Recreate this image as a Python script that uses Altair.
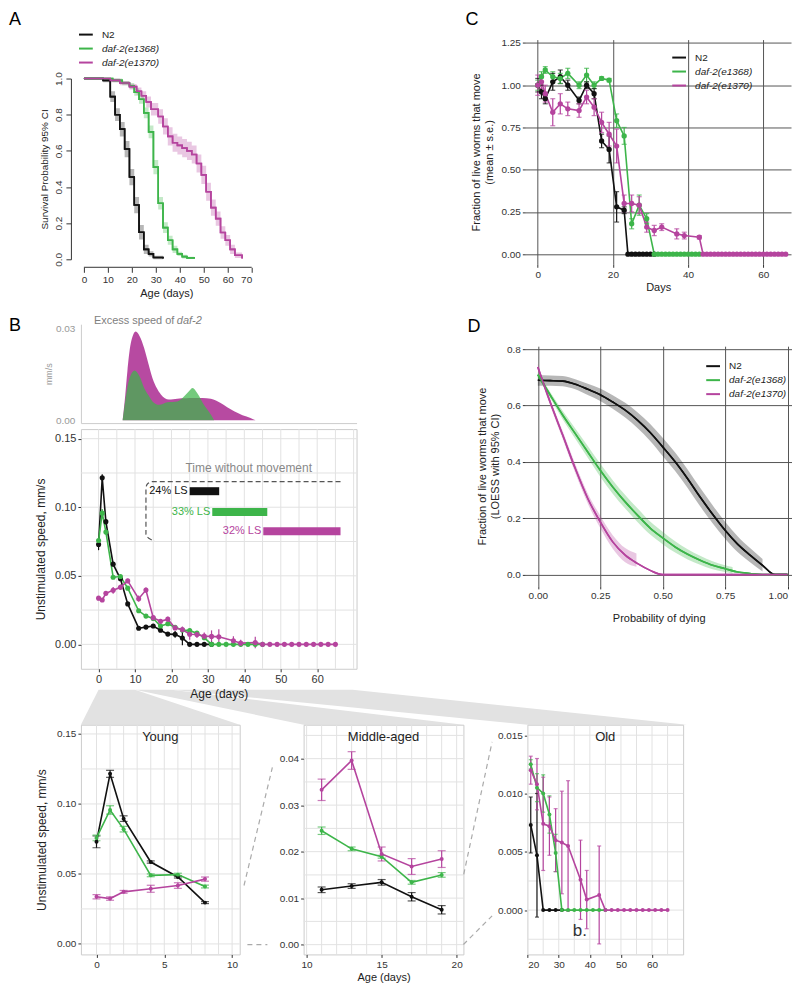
import altair as alt
import pandas as pd

FONT = "Liberation Sans"
STRAINS = ["N2", "daf-2(e1368)", "daf-2(e1370)"]
COLORS = ["#111111", "#3db54a", "#b5449e"]

# ---------------- Panel A: survival (Kaplan-Meier steps, 95% CI half widths)
km_n2_t = [0, 8, 11, 13, 15, 17, 19, 21, 23, 25, 27, 29, 33]
km_n2_s = [1.0, 0.99, 0.90, 0.80, 0.72, 0.61, 0.455, 0.30, 0.15, 0.055, 0.03, 0.01, 0.005]
km_n2_ci = [0.0, 0.01, 0.03, 0.035, 0.04, 0.045, 0.045, 0.045, 0.04, 0.025, 0.015, 0.01, 0.005]
km_e1368_t = [0, 12, 16, 19, 21, 23, 25, 27, 29, 31, 33, 35, 37, 39, 41, 43, 46]
km_e1368_s = [1.0, 0.99, 0.975, 0.96, 0.925, 0.885, 0.81, 0.705, 0.51, 0.31, 0.175, 0.105, 0.055, 0.03, 0.015, 0.008, 0.003]
km_e1368_ci = [0.0, 0.01, 0.012, 0.015, 0.02, 0.025, 0.03, 0.035, 0.04, 0.035, 0.03, 0.025, 0.02, 0.012, 0.01, 0.006, 0.003]
km_e1370_t = [0, 11, 15, 19, 22, 24, 26, 28, 31, 33, 35, 37, 39, 41, 43, 45, 47, 49, 51, 53, 55, 57, 59, 61, 63, 66]
km_e1370_s = [1.0, 0.99, 0.975, 0.955, 0.93, 0.905, 0.87, 0.83, 0.79, 0.735, 0.68, 0.645, 0.63, 0.615, 0.60, 0.58, 0.53, 0.467, 0.374, 0.286, 0.225, 0.148, 0.105, 0.055, 0.022, 0.005]
km_e1370_ci = [0.0, 0.01, 0.012, 0.015, 0.02, 0.025, 0.03, 0.035, 0.04, 0.045, 0.05, 0.05, 0.05, 0.05, 0.05, 0.05, 0.05, 0.05, 0.05, 0.045, 0.04, 0.035, 0.03, 0.025, 0.015, 0.005]

# ---------------- Panel C: fraction of live worms that move (mean, s.e.)
c_n2_day = [0, 1, 2, 4, 6, 8, 11, 13, 15, 17, 19, 21, 23, 24, 25, 26, 27, 28, 29, 30, 31]
c_n2 = [1.00, 0.96, 0.92, 1.02, 1.05, 1.00, 0.91, 1.00, 0.95, 0.67, 0.62, 0.28, 0.26,
        0, 0, 0, 0, 0, 0, 0, 0]
c_n2_se = [0.04, 0.04, 0.03, 0.05, 0.04, 0.03, 0.02, 0.02, 0.03, 0.04, 0.08, 0.09, 0.02,
           0, 0, 0, 0, 0, 0, 0, 0]
c_e1368_day = [0, 1, 2, 4, 6, 8, 11, 13, 15, 17, 19, 21, 23, 25, 27, 29,
               31, 32, 33, 34, 35, 36, 37, 38, 39, 40, 41, 42, 43]
c_e1368 = [1.00, 1.05, 1.09, 1.05, 1.04, 1.07, 1.00, 1.06, 1.00, 1.04, 1.03, 0.79, 0.70, 0.18, 0.29, 0.21,
           0, 0, 0, 0, 0, 0, 0, 0, 0, 0, 0, 0, 0]
c_e1368_se = [0.03, 0.03, 0.02, 0.03, 0.03, 0.03, 0.02, 0.04, 0.02, 0.01, 0.01, 0.04, 0.05, 0.03, 0.06, 0.03,
              0, 0, 0, 0, 0, 0, 0, 0, 0, 0, 0, 0, 0]
c_e1370_day = [0, 1, 2, 4, 6, 8, 11, 13, 15, 17, 19, 21, 23, 25, 27, 29, 31, 33, 37, 39, 43,
               44, 45, 46, 47, 48, 49, 50, 51, 52, 53, 54, 55, 56, 57, 58, 59, 60, 61, 62, 63, 64, 65, 66]
c_e1370 = [1.00, 1.02, 0.95, 0.84, 0.89, 0.86, 0.85, 0.93, 0.87, 0.78, 0.71, 0.64, 0.30, 0.30, 0.29, 0.16,
           0.14, 0.16, 0.12, 0.11, 0.10,
           0, 0, 0, 0, 0, 0, 0, 0, 0, 0, 0, 0, 0, 0, 0, 0, 0, 0, 0, 0, 0, 0, 0]
c_e1370_se = [0.06, 0.04, 0.05, 0.08, 0.06, 0.04, 0.04, 0.04, 0.05, 0.06, 0.07, 0.10, 0.05, 0.05, 0.05, 0.03,
              0.03, 0.02, 0.03, 0.02, 0.01,
              0, 0, 0, 0, 0, 0, 0, 0, 0, 0, 0, 0, 0, 0, 0, 0, 0, 0, 0, 0, 0, 0, 0]

# ---------------- Panel B: unstimulated speed (mean, s.e.)
sp_n2_day = [0, 1, 2, 4, 6, 8, 11, 13, 15, 17, 19, 21, 23, 25, 27, 29, 31]
sp_n2 = [0.0729, 0.1215, 0.0895, 0.0585, 0.0478, 0.0295, 0.0118, 0.0126, 0.0134, 0.0103, 0.0075,
         0.0073, 0.0047, 0.0, 0.0, 0.0, 0.0]
sp_n2_se = [0.0042, 0.0025, 0.0020, 0.0008, 0.0007, 0.0007, 0.0006, 0.0005, 0.0006, 0.0009, 0.0009,
            0.0024, 0.0053, 0.0, 0.0, 0.0, 0.0]
sp_e1368_day = [0, 1, 2, 4, 6, 8, 11, 13, 15, 17, 19, 21, 23, 25, 27, 29, 31, 33, 35, 37, 39, 41, 43, 45]
sp_e1368 = [0.0757, 0.0957, 0.0820, 0.0490, 0.0495, 0.0410, 0.0245, 0.0206, 0.0189, 0.0134, 0.0150,
            0.0125, 0.0105, 0.0100, 0.0082, 0.0049, 0.0, 0.0, 0.0, 0.0, 0.0, 0.0, 0.0, 0.0]
sp_e1368_se = [0.0020, 0.0030, 0.0020, 0.0010, 0.0010, 0.0010, 0.0008, 0.0004, 0.0003, 0.0004, 0.0005,
               0.0004, 0.0012, 0.0016, 0.0016, 0.0016, 0.0, 0.0, 0.0, 0.0, 0.0, 0.0, 0.0, 0.0]
sp_e1370_day = [0, 1, 2, 4, 6, 8, 11, 13, 15, 17, 19, 21, 23, 25, 27, 29, 31, 33, 37, 39, 43,
                45, 47, 49, 51, 53, 55, 57, 59, 61, 63, 65]
sp_e1370 = [0.0337, 0.0324, 0.0372, 0.0394, 0.0417, 0.0463, 0.0333, 0.0396, 0.0195, 0.0168, 0.0184,
            0.0120, 0.0108, 0.0074, 0.0072, 0.0060, 0.0058, 0.0055, 0.0026, 0.0009, 0.0013,
            0.0, 0.0, 0.0, 0.0, 0.0, 0.0, 0.0, 0.0, 0.0, 0.0, 0.0]
sp_e1370_se = [0.0015, 0.0012, 0.0010, 0.0025, 0.0020, 0.0015, 0.0023, 0.0019, 0.0015, 0.0017, 0.0018,
               0.0012, 0.0022, 0.0040, 0.0025, 0.0027, 0.0044, 0.0056, 0.0034, 0.0025, 0.0042,
               0.0, 0.0, 0.0, 0.0, 0.0, 0.0, 0.0, 0.0, 0.0, 0.0, 0.0]

# excess speed of daf-2 (density-like curves)
dens_e1370_day = [6.6, 7.3, 7.9, 8.8, 10.2, 11.3, 12.5, 13.7, 14.8, 16.0, 17.1, 19.3, 21.6, 24.0, 26.0,
                  28.5, 30.8, 32.2, 33.5, 35.3, 37.2, 39.5, 41.7, 43.1]
dens_e1370 = [0.0, 0.008, 0.016, 0.025, 0.0291, 0.0275, 0.0237, 0.0185, 0.0138, 0.0105, 0.0085, 0.0068,
              0.0071, 0.0072, 0.0073, 0.0073, 0.0071, 0.0065, 0.0057, 0.0043, 0.0030, 0.0017, 0.0008, 0.0]
dens_e1368_day = [6.6, 7.4, 8.3, 9.9, 11.2, 12.5, 13.7, 14.8, 16.6, 18.9, 21.6, 23.5, 24.8, 25.8, 27.1,
                  28.9, 30.8, 31.7]
dens_e1368 = [0.0, 0.007, 0.013, 0.0163, 0.0145, 0.0106, 0.0082, 0.0062, 0.0051, 0.0059, 0.0062, 0.0079,
              0.0095, 0.0106, 0.0089, 0.0051, 0.0019, 0.0]

# time without movement (days) and share of lifespan
still_start = [25.0, 31.2, 45.2]
still_end = [33.1, 46.3, 66.4]
still_level = [0.1117, 0.0966, 0.0825]
still_label = ["24% LS", "33% LS", "32% LS"]
bracket_day = [66.4, 14.8, 13.4, 13.0, 13.0, 13.9, 15.4]
bracket_val = [0.1187, 0.1187, 0.117, 0.1141, 0.0801, 0.0772, 0.0757]

# ---------------- Panel D: LOESS fits with 95% CI
d_x = [0.0, 0.05, 0.10, 0.15, 0.20, 0.25, 0.30, 0.35, 0.40, 0.45, 0.50, 0.55, 0.60, 0.65, 0.70,
       0.75, 0.80, 0.85, 0.90, 0.95, 1.0]
d_n2 = [0.689, 0.688, 0.686, 0.675, 0.657, 0.638, 0.612, 0.583, 0.547, 0.504, 0.453, 0.400, 0.340,
        0.275, 0.214, 0.157, 0.108, 0.069, 0.033, 0.0, 0.0]
d_e1368 = [0.709, 0.636, 0.565, 0.500, 0.435, 0.370, 0.311, 0.258, 0.210, 0.165, 0.130, 0.098, 0.072,
           0.051, 0.033, 0.021, 0.009, 0.004, 0.0, 0.0, 0.0]
d_e1370 = [0.736, 0.610, 0.494, 0.376, 0.270, 0.187, 0.116, 0.069, 0.039, 0.015, 0.0, 0.0, 0.0,
           0.0, 0.0, 0.0, 0.0, 0.0, 0.0, 0.0, 0.0]
d_n2_bx = [0.0, 0.05, 0.10, 0.15, 0.20, 0.25, 0.30, 0.35, 0.40, 0.45, 0.50, 0.55, 0.60, 0.65, 0.70,
           0.75, 0.80, 0.85, 0.90]
d_n2_lo = [0.670, 0.670, 0.668, 0.657, 0.637, 0.616, 0.588, 0.557, 0.519, 0.474, 0.421, 0.367, 0.307,
           0.242, 0.182, 0.127, 0.080, 0.044, 0.011]
d_n2_hi = [0.707, 0.706, 0.704, 0.693, 0.677, 0.660, 0.636, 0.609, 0.575, 0.534, 0.485, 0.433, 0.373,
           0.308, 0.246, 0.187, 0.136, 0.094, 0.055]
d_e1368_bx = [0.0, 0.05, 0.10, 0.15, 0.20, 0.25, 0.30, 0.35, 0.40, 0.45, 0.50, 0.55, 0.60, 0.65, 0.70,
              0.75, 0.78]
d_e1368_lo = [0.700, 0.625, 0.550, 0.482, 0.414, 0.347, 0.287, 0.234, 0.186, 0.142, 0.108, 0.078, 0.054,
              0.035, 0.019, 0.009, 0.003]
d_e1368_hi = [0.718, 0.647, 0.580, 0.518, 0.456, 0.393, 0.335, 0.282, 0.234, 0.188, 0.152, 0.118, 0.090,
              0.067, 0.047, 0.033, 0.027]
d_e1370_bx = [0.0, 0.05, 0.10, 0.15, 0.20, 0.25, 0.30, 0.35, 0.395]
d_e1370_lo = [0.725, 0.598, 0.480, 0.360, 0.252, 0.165, 0.092, 0.044, 0.028]
d_e1370_hi = [0.747, 0.622, 0.508, 0.392, 0.288, 0.209, 0.140, 0.094, 0.075]


# ================= helpers =================
def long(series, cols):
    rows = []
    for name, arrays in zip(STRAINS, series):
        for vals in zip(*arrays):
            r = {"strain": name}
            r.update(dict(zip(cols, vals)))
            rows.append(r)
    return pd.DataFrame(rows)


def color(legend=None):
    return alt.Color("strain:N", scale=alt.Scale(domain=STRAINS, range=COLORS), legend=legend)


def legend(x, y, size=10):
    return alt.Legend(title=None, orient="none", legendX=x, legendY=y, symbolType="stroke",
                      symbolStrokeWidth=2, symbolSize=190, symbolOpacity=1, labelFontSize=size,
                      labelColor="#222222",
                      labelFontStyle=alt.ExprRef("datum.label == 'N2' ? 'normal' : 'italic'"),
                      rowPadding=1, labelOffset=8, padding=0)


ONE = pd.DataFrame({"z": [0]})


def txt(text, x, y, size=12, align="left", baseline="top", col="#000000", style="normal"):
    return alt.Chart(pd.DataFrame({"t": [text]})).mark_text(
        align=align, baseline=baseline, fontSize=size, color=col, fontStyle=style, font=FONT
    ).encode(text="t:N", x=alt.value(x), y=alt.value(y))


def spacer(w, h):
    return alt.Chart(ONE).mark_point(opacity=0, size=1).encode(
        x=alt.value(0), y=alt.value(0)).properties(width=w, height=h)


# ================= Panel A =================
km = long([(km_n2_t, km_n2_s, km_n2_ci), (km_e1368_t, km_e1368_s, km_e1368_ci),
           (km_e1370_t, km_e1370_s, km_e1370_ci)], ["t", "s", "ci"])
km["lo"] = (km["s"] - km["ci"]).clip(lower=0)
km["hi"] = (km["s"] + km["ci"]).clip(upper=1)
A_W, A_H = 171, 181
a_x = alt.X("t:Q", scale=alt.Scale(domain=[-1.25, 70], nice=False, zero=False),
            axis=alt.Axis(values=list(range(0, 71, 10)), domain=False, grid=False, offset=8, tickSize=5,
                          labelFontSize=10, titleFontSize=11, title="Age (days)", labelPadding=2, titlePadding=3))


def a_y(f):
    return alt.Y(f, scale=alt.Scale(domain=[0, 1], nice=False),
                 axis=alt.Axis(values=[0, 0.2, 0.4, 0.6, 0.8, 1.0], format=".1f", labelAngle=270, offset=10,
                               tickSize=5, grid=False, title="Survival Probability 95% CI", titleFontSize=10,
                               labelFontSize=10, labelPadding=2, titlePadding=4))


a_line_leg = alt.Chart(km).mark_line(interpolate="step-after", strokeWidth=1.6).encode(
    x=a_x, y=a_y("s:Q"), color=color(legend(-3, -52)))
a_band = alt.Chart(km).mark_area(interpolate="step-after", opacity=0.3).encode(
    x=a_x, y=a_y("lo:Q"), y2="hi:Q", color=color())
a_line = alt.Chart(km).mark_line(interpolate="step-after", strokeWidth=1.6).encode(
    x=a_x, y=a_y("s:Q"), color=color())
a_axisline = alt.Chart(ONE).mark_rule(color="#333333").encode(
    x=alt.value(3), x2=alt.value(A_W), y=alt.value(A_H + 8))
panelA = alt.layer(a_line_leg, a_band, a_line, a_axisline, txt("A", -72, -68, size=18)).properties(
    width=A_W, height=A_H)

# ================= Panel C =================
cdf = long([(c_n2_day, c_n2, c_n2_se), (c_e1368_day, c_e1368, c_e1368_se),
            (c_e1370_day, c_e1370, c_e1370_se)], ["day", "v", "se"])
cdf["lo"] = cdf["v"] - cdf["se"]
cdf["hi"] = cdf["v"] + cdf["se"]
C_W, C_H = 266, 225
c_x = alt.X("day:Q", scale=alt.Scale(domain=[-3.3, 67.4], nice=False, zero=False),
            axis=alt.Axis(values=[0, 20, 40, 60], grid=True, gridColor="#555555", domain=False, tickSize=3,
                          labelFontSize=10, titleFontSize=11, title="Days", titlePadding=2))


def c_y(f):
    return alt.Y(f, scale=alt.Scale(domain=[-0.06, 1.27], nice=False, zero=False),
                 axis=alt.Axis(values=[0, 0.25, 0.5, 0.75, 1.0, 1.25], format=".2f", grid=True,
                               gridColor="#555555", domain=False, tickSize=3, labelFontSize=10,
                               titleFontSize=11, title=["Fraction of live worms that move", "(mean ± s.e.)"],
                               titlePadding=6))


cbase = alt.Chart(cdf)
cerr = cbase.transform_filter("datum.se > 0")
panelC = alt.layer(
    cbase.mark_line(strokeWidth=1.6).encode(x=c_x, y=c_y("v:Q"), color=color(legend(146, 10))),
    cerr.mark_rule(strokeWidth=1.2).encode(x=c_x, y=c_y("lo:Q"), y2="hi:Q", color=color()),
    cerr.mark_tick(orient="horizontal", size=5, thickness=1.2).encode(x=c_x, y=c_y("lo:Q"), color=color()),
    cerr.mark_tick(orient="horizontal", size=5, thickness=1.2).encode(x=c_x, y=c_y("hi:Q"), color=color()),
    cbase.mark_point(filled=True, size=28, opacity=1).encode(x=c_x, y=c_y("v:Q"), color=color()),
    txt("C", -60, -29, size=18),
).properties(width=C_W, height=C_H)

# ================= Panel B (density + main) =================
B_W = 276
B_XDOM = [-4.85, 70.8]
dens = long([([], []), (dens_e1368_day, dens_e1368), (dens_e1370_day, dens_e1370)], ["day", "v"])
DEN_H = 99
den_x = alt.X("day:Q", scale=alt.Scale(domain=B_XDOM, nice=False, zero=False),
              axis=alt.Axis(labels=False, ticks=False, grid=False, domainColor="#cccccc", title=None))
den_y = alt.Y("v:Q", scale=alt.Scale(domain=[-0.0009, 0.0315], nice=False, zero=False),
              axis=alt.Axis(values=[0, 0.03], format=".2f", ticks=False, grid=False, domainColor="#cccccc",
                            labelColor="#999999", labelFontSize=10, title="mm/s", titleColor="#999999",
                            titleFontSize=9, titlePadding=2, labelPadding=6))
den_m = alt.Chart(dens).transform_filter("datum.strain == 'daf-2(e1370)'").mark_area(
    interpolate="monotone", opacity=0.97, color=COLORS[2]).encode(x=den_x, y=den_y)
den_g = alt.Chart(dens).transform_filter("datum.strain == 'daf-2(e1368)'").mark_area(
    interpolate="monotone", opacity=0.72, color=COLORS[1]).encode(x=den_x, y=den_y)
panelBtop = alt.layer(
    den_m, den_g,
    txt("Excess speed of", 13, -3, size=11, baseline="middle", col="#808080"),
    txt("daf-2", 96, -3, size=11, baseline="middle", col="#808080", style="italic"),
    txt("B", -72, -7, size=18),
).properties(width=B_W, height=DEN_H)

spd = long([(sp_n2_day, sp_n2, sp_n2_se), (sp_e1368_day, sp_e1368, sp_e1368_se),
            (sp_e1370_day, sp_e1370, sp_e1370_se)], ["day", "v", "se"])
spd["lo"] = spd["v"] - spd["se"]
spd["hi"] = spd["v"] + spd["se"]
BM_H = 240
ZOOM_H = 230


def bm_x(f):
    return alt.X(f, scale=alt.Scale(domain=B_XDOM, nice=False, zero=False),
                 axis=alt.Axis(values=list(range(0, 61, 10)), grid=False, domain=False, tickSize=3,
                               labelFontSize=11, titleFontSize=12, title="Age (days)", zindex=1, titlePadding=4))


def bm_y(f):
    return alt.Y(f, scale=alt.Scale(domain=[-0.0178, 0.157], nice=False, zero=False),
                 axis=alt.Axis(values=[0, 0.05, 0.10, 0.15], format=".2f", grid=False, domain=False, tickSize=3,
                               labelFontSize=11, titleFontSize=12, title="Unstimulated speed, mm/s",
                               titlePadding=7))


bm_gx = pd.DataFrame({"g": [0, 5, 10, 15, 20, 25, 30, 35, 40, 45, 50, 55, 60, 65, 70]})
bm_gy = pd.DataFrame({"g": [0, 0.025, 0.05, 0.075, 0.10, 0.125, 0.15]})

# layout geometry (pixels)
COL_GAP = 64
YOUNG_W, MID_W, OLD_W = 159, 160, 156
MID_X0 = YOUNG_W + COL_GAP
OLD_X0 = MID_X0 + MID_W + COL_GAP
COL2_DX = 445          # left of C / D relative to left of A / B
ROW2_DY = 285          # top of B density relative to top of C
ROW3_DY = 686          # top of zoom panels relative to top of C
BMAIN_DY = ROW2_DY + DEN_H + 6


# zoom wedges (decoration, pixel geometry relative to the main B panel)
def bpx(d):
    return (d - B_XDOM[0]) / (B_XDOM[1] - B_XDOM[0]) * B_W


WEDGE_TOP, WEDGE_BOT = 261, ROW3_DY - BMAIN_DY
wedges = pd.DataFrame({
    "w": [1, 1, 2, 2, 3, 3],
    "py": [WEDGE_TOP, WEDGE_BOT] * 3,
    "px1": [bpx(0), 0, bpx(10), MID_X0, bpx(20), OLD_X0],
    "px2": [bpx(10), YOUNG_W, bpx(20), MID_X0 + MID_W, B_W - 4, OLD_X0 + OLD_W + 4],
})
wedge_layer = alt.Chart(wedges).mark_area(orient="horizontal", color="#e2e2e2").encode(
    y=alt.Y("py:Q", scale=None, axis=None), x=alt.X("px1:Q", scale=None, axis=None), x2="px2:Q",
    detail="w:N")

still = pd.DataFrame({"strain": STRAINS, "start": still_start, "end": still_end, "lvl": still_level,
                      "lab": still_label})
bracket = pd.DataFrame({"i": list(range(len(bracket_day))), "d": bracket_day, "v": bracket_val})
ttl = pd.DataFrame({"d": [41.2], "v": [0.1287], "t": ["Time without movement"]})

sbase = alt.Chart(spd)
panelBmain = alt.layer(
    wedge_layer,
    alt.Chart(bm_gx).mark_rule(color="#e2e2e2", strokeWidth=1).encode(x=bm_x("g:Q")),
    alt.Chart(bm_gy).mark_rule(color="#e2e2e2", strokeWidth=1).encode(y=bm_y("g:Q")),
    alt.Chart(bracket).mark_line(strokeDash=[5, 3], color="#555555", strokeWidth=1.2, interpolate="monotone").encode(
        x=bm_x("d:Q"), y=bm_y("v:Q"), order="i:Q"),
    alt.Chart(still).mark_rule(strokeWidth=8, strokeCap="butt").encode(
        x=bm_x("start:Q"), x2="end:Q", y=bm_y("lvl:Q"), color=color()),
    alt.Chart(still).mark_text(align="right", baseline="middle", fontSize=11, dx=-2, font=FONT).encode(
        x=bm_x("start:Q"), y=bm_y("lvl:Q"), text="lab:N", color=color()),
    alt.Chart(ttl).mark_text(fontSize=12, color="#888888", font=FONT).encode(
        x=bm_x("d:Q"), y=bm_y("v:Q"), text="t:N"),
    sbase.transform_filter("datum.se > 0").mark_rule(strokeWidth=1.2).encode(
        x=bm_x("day:Q"), y=bm_y("lo:Q"), y2="hi:Q", color=color()),
    sbase.mark_line(strokeWidth=1.6).encode(x=bm_x("day:Q"), y=bm_y("v:Q"), color=color()),
    sbase.mark_point(filled=True, size=26, opacity=1).encode(x=bm_x("day:Q"), y=bm_y("v:Q"), color=color()),
).properties(width=B_W, height=BM_H, view=alt.ViewBackground(stroke="#cccccc"))

# ================= Panel D =================
dline = long([(d_x, d_n2), (d_x, d_e1368), (d_x, d_e1370)], ["p", "v"])
dband = long([(d_n2_bx, d_n2_lo, d_n2_hi), (d_e1368_bx, d_e1368_lo, d_e1368_hi),
              (d_e1370_bx, d_e1370_lo, d_e1370_hi)], ["p", "lo", "hi"])
D_W, D_H = 267, 240
d_xe = alt.X("p:Q", scale=alt.Scale(domain=[-0.05, 1.018], nice=False, zero=False),
             axis=alt.Axis(values=[0, 0.25, 0.5, 0.75, 1.0], format=".2f", grid=True, gridColor="#555555",
                           domain=False, tickSize=3, labelFontSize=10, titleFontSize=11, labelFlush=6,
                           title="Probability of dying", titlePadding=12))


def d_y(f):
    return alt.Y(f, scale=alt.Scale(domain=[-0.04, 0.81], nice=False, zero=False),
                 axis=alt.Axis(values=[0, 0.2, 0.4, 0.6, 0.8], format=".1f", grid=True, gridColor="#555555",
                               domain=False, tickSize=3, labelFontSize=10, titleFontSize=11,
                               title=["Fraction of live worms that move", "(LOESS with 95% CI)"],
                               titlePadding=6))


panelD = alt.layer(
    alt.Chart(dline).mark_line(strokeWidth=1.6, interpolate="monotone").encode(
        x=d_xe, y=d_y("v:Q"), color=color(legend(180, 12))),
    alt.Chart(dband).mark_area(opacity=0.3, interpolate="monotone").encode(
        x=d_xe, y=d_y("lo:Q"), y2="hi:Q", color=color()),
    alt.Chart(dline).mark_line(strokeWidth=1.6, interpolate="monotone").encode(
        x=d_xe, y=d_y("v:Q"), color=color()),
    txt("D", -58, -28, size=18),
).properties(width=D_W, height=D_H)


# ================= bottom zoom panels =================
def zoom_panel(df, xdom, ydom, W, xvals, yvals, yfmt, gx, gy, title, ytitle, xtitle, cap, extra=None):
    xs = alt.Scale(domain=xdom, nice=False, zero=False)
    ys = alt.Scale(domain=ydom, nice=False, zero=False)

    def X(f):
        return alt.X(f, scale=xs, axis=alt.Axis(values=xvals, grid=False, domain=False, tickSize=3,
                                                labelFontSize=10, titleFontSize=11, title=xtitle,
                                                titlePadding=2))

    def Y(f):
        return alt.Y(f, scale=ys, axis=alt.Axis(values=yvals, format=yfmt, grid=False, domain=False,
                                                tickSize=3, labelFontSize=10, titleFontSize=12, title=ytitle,
                                                titlePadding=8))

    base = alt.Chart(df)
    err = base.transform_filter("datum.se > 0")
    layers = [
        alt.Chart(pd.DataFrame({"g": gx})).mark_rule(color="#e2e2e2").encode(x=X("g:Q")),
        alt.Chart(pd.DataFrame({"g": gy})).mark_rule(color="#e2e2e2").encode(y=Y("g:Q")),
        err.mark_rule(strokeWidth=1.2).encode(x=X("day:Q"), y=Y("lo:Q"), y2="hi:Q", color=color()),
    ]
    if cap:
        layers += [
            err.mark_tick(orient="horizontal", size=cap, thickness=1.2).encode(x=X("day:Q"), y=Y("lo:Q"), color=color()),
            err.mark_tick(orient="horizontal", size=cap, thickness=1.2).encode(x=X("day:Q"), y=Y("hi:Q"), color=color()),
        ]
    layers += [
        base.mark_line(strokeWidth=1.6).encode(x=X("day:Q"), y=Y("v:Q"), color=color()),
        base.mark_point(filled=True, size=16, opacity=1).encode(x=X("day:Q"), y=Y("v:Q"), color=color()),
        txt(title, W / 2, 12, size=13, align="center", baseline="middle", col="#222222"),
    ]
    if extra is not None:
        layers += extra(X, Y)
    return alt.layer(*layers).properties(width=W, height=ZOOM_H, view=alt.ViewBackground(stroke="#cccccc"))


young = zoom_panel(spd[spd["day"] <= 8], [-1.15, 10.56], [-0.0075, 0.1566], YOUNG_W, [0, 5, 10],
                   [0, 0.05, 0.10, 0.15], ".2f", list(range(0, 11)),
                   [0, 0.025, 0.05, 0.075, 0.10, 0.125, 0.15], "Young", "Unstimulated speed, mm/s", None, 8)

connectors = pd.DataFrame({
    "x1": [-59.7, -56.3, 160.3, 160.0], "y1": [161.0, 220.1, 149.8, 220.1],
    "x2": [-31.3, -36.3, 188.7, 188.7], "y2": [42.8, 220.1, 17.3, 191.4],
})


def mid_extra(X, Y):
    return [alt.Chart(connectors).mark_rule(strokeDash=[5, 4], color="#aaaaaa", strokeWidth=1.2).encode(
        x=alt.X("x1:Q", scale=None, axis=None), y=alt.Y("y1:Q", scale=None, axis=None),
        x2="x2:Q", y2="y2:Q")]


middle = zoom_panel(spd[(spd["day"] >= 11) & (spd["day"] <= 19)], [9.8, 20.45], [-0.0021, 0.0473], MID_W,
                    [10, 15, 20], [0, 0.01, 0.02, 0.03, 0.04], ".2f", list(range(10, 21)),
                    [0, 0.005, 0.01, 0.015, 0.02, 0.025, 0.03, 0.035, 0.04, 0.045], "Middle-aged", None,
                    "Age (days)", 8, extra=mid_extra)

bnote = pd.DataFrame({"d": [36.8], "v": [-0.0018], "t": ["b."]})


def old_extra(X, Y):
    return [alt.Chart(bnote).mark_text(fontSize=17, color="#333333", font=FONT).encode(
        x=X("d:Q"), y=Y("v:Q"), text="t:N")]


old = zoom_panel(spd[spd["day"] >= 21], [19.9, 70.0], [-0.0038, 0.0159], OLD_W, [20, 30, 40, 50, 60],
                 [0, 0.005, 0.01, 0.015], ".3f", list(range(20, 70, 5)),
                 [-0.0025, 0, 0.0025, 0.005, 0.0075, 0.01, 0.0125, 0.015], "Old", None, None, 4,
                 extra=old_extra)

# ================= layout =================
# With flush bounds a nested concat counts as zero-size, so rows are placed by spacers.


def flush_v(*charts, spacing):
    return alt.vconcat(*charts, spacing=spacing, bounds="flush").resolve_scale(color="independent")


def flush_h(*charts, spacing):
    return alt.hconcat(*charts, spacing=spacing, bounds="flush").resolve_scale(color="independent")


colA = flush_v(spacer(1, 1), panelA, spacing=38)
row1 = flush_h(colA, panelC, spacing=COL2_DX)
colB = flush_v(panelBtop, panelBmain, spacing=6)
colD = flush_v(spacer(1, 1), panelD, spacing=21)
row2 = flush_h(colB, colD, spacing=COL2_DX)
row3 = flush_h(young, middle, old, spacing=COL_GAP)

chart = flush_v(
    row1, spacer(1, ROW2_DY - 2), row2, spacer(1, ROW3_DY - ROW2_DY - 2), row3, spacing=1
).properties(padding={"top": 2, "left": 1, "right": 0, "bottom": 0}).configure(font=FONT).configure_view(
    stroke=None
).configure_axis(
    labelFont=FONT, titleFont=FONT, titleFontWeight="normal", labelColor="#333333", titleColor="#222222",
    tickColor="#333333", domainColor="#333333"
).configure_legend(labelFont=FONT)

chart.save("out.html", embed_options={"renderer": "svg", "actions": False})
